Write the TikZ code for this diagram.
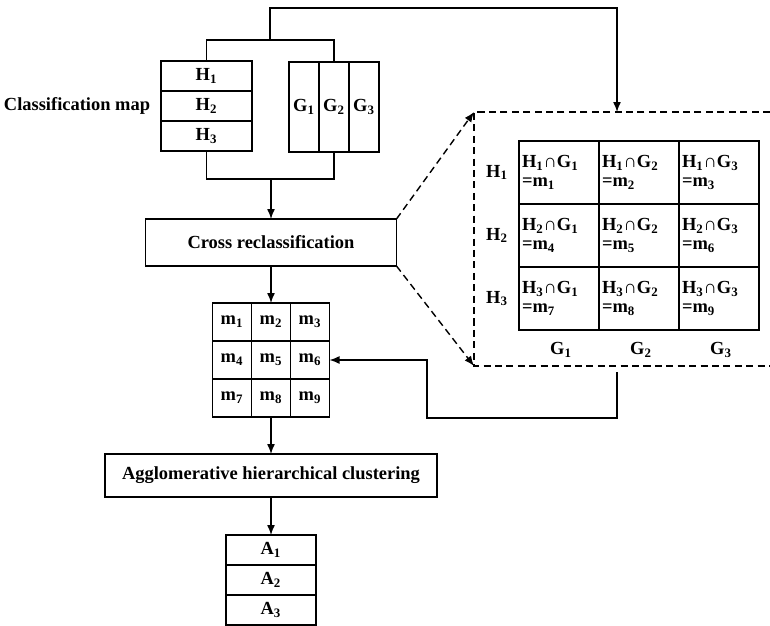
\documentclass[tikz,border=0pt]{standalone}
\usepackage{fontspec}
\setmainfont{Liberation Serif}
\usetikzlibrary{arrows.meta,positioning}
\newcommand{\idx}[1]{\textsubscript{#1}}
\begin{document}
\begin{tikzpicture}[x=0.02cm, y=-0.02cm,
		every node/.style={ text=black, inner sep=0pt, outer sep=0pt,
				font=\bfseries\fontsize{10.5}{11}\selectfont },
		hcell/.style={draw, minimum width=1.82cm, minimum height=0.6cm},
		gcell/.style={draw, minimum width=0.6cm, minimum height=1.8cm},
		mcell/.style={draw, minimum width=0.78cm, minimum height=0.76cm},
		bigcell/.style={draw, minimum width=1.6cm, minimum height=1.26cm,
				text width=1.48cm, align=left},
		procbox/.style={draw},
		line width=0.8pt, >={Latex[length=2mm,width=1.6mm]} ]

	\useasboundingbox (0,0) rectangle (770,625);

	% classification map
	\node[hcell] (h1) at (206.5,76) {H\idx{1}};
	\node[hcell] (h2) at (206.5,106) {H\idx{2}};
	\node[hcell] (h3) at (206.5,136) {H\idx{3}};
	\node[gcell] (g1) at (304,107) {G\idx{1}};
	\node[gcell] (g2) at (334,107) {G\idx{2}};
	\node[gcell] (g3) at (364,107) {G\idx{3}};
	\node[left=0.22cm of h2] (cmap) {Classification map};

	\node[procbox, minimum width=5.02cm, minimum height=0.94cm] (cross) at (271,242.5) {Cross reclassification};

	\node[mcell] (m1) at (232,322) {m\idx{1}};
	\node[mcell] (m2) at (271,322) {m\idx{2}};
	\node[mcell] (m3) at (310,322) {m\idx{3}};
	\node[mcell] (m4) at (232,360) {m\idx{4}};
	\node[mcell] (m5) at (271,360) {m\idx{5}};
	\node[mcell] (m6) at (310,360) {m\idx{6}};
	\node[mcell] (m7) at (232,398) {m\idx{7}};
	\node[mcell] (m8) at (271,398) {m\idx{8}};
	\node[mcell] (m9) at (310,398) {m\idx{9}};

	\node[procbox, minimum width=6.64cm, minimum height=0.86cm] (agg) at (271,475.5) {Agglomerative hierarchical clustering};

	\node[hcell, minimum width=1.8cm] (a1) at (271,550) {A\idx{1}};
	\node[hcell, minimum width=1.8cm] (a2) at (271,580) {A\idx{2}};
	\node[hcell, minimum width=1.8cm] (a3) at (271,610) {A\idx{3}};

	% cross table
	\node[bigcell] (c11) at (559,172.5) {H\idx{1}∩G\idx{1}\\=m\idx{1}};
	\node[bigcell] (c12) at (639,172.5) {H\idx{1}∩G\idx{2}\\=m\idx{2}};
	\node[bigcell] (c13) at (719,172.5) {H\idx{1}∩G\idx{3}\\=m\idx{3}};
	\node[bigcell] (c21) at (559,235.5) {H\idx{2}∩G\idx{1}\\=m\idx{4}};
	\node[bigcell] (c22) at (639,235.5) {H\idx{2}∩G\idx{2}\\=m\idx{5}};
	\node[bigcell] (c23) at (719,235.5) {H\idx{2}∩G\idx{3}\\=m\idx{6}};
	\node[bigcell] (c31) at (559,298.5) {H\idx{3}∩G\idx{1}\\=m\idx{7}};
	\node[bigcell] (c32) at (639,298.5) {H\idx{3}∩G\idx{2}\\=m\idx{8}};
	\node[bigcell] (c33) at (719,298.5) {H\idx{3}∩G\idx{3}\\=m\idx{9}};
	\node (rh1) at (497,172.5) {H\idx{1}};
	\node (rh2) at (497,235.5) {H\idx{2}};
	\node (rh3) at (497,298.5) {H\idx{3}};
	\node (cg1) at (561,350) {G\idx{1}};
	\node (cg2) at (641,350) {G\idx{2}};
	\node (cg3) at (721,350) {G\idx{3}};

	\coordinate (tb) at (270,40);
	\coordinate (tl) at (270,8);
	\coordinate (bb) at (271,179);
	\coordinate (dtop) at (617,112);
	\coordinate (dtl) at (474,112);
	\coordinate (dbl) at (474,366);
	\coordinate (dtr) at (770,112);
	\coordinate (dbr) at (770,366);
	\coordinate (ra) at (617,372);
	\coordinate (rb) at (427,418);

	\draw (h1.north) |- (tb) -| (g2.north);
	\draw[->] (tb) -- (tl) -| (dtop);
	\draw (h3.south) |- (bb) -| (g2.south);
	\draw[->] (bb) -- (cross);
	\draw[->] (cross) -- (m2);
	\draw[->] (m8) -- (agg);
	\draw[->] (agg) -- (a1);

	\draw[dash pattern=on 4pt off 2.5pt] (dtr) -- (dtl) -- (dbl) -- (dbr);
	\draw[dash pattern=on 4pt off 2.5pt, ->] (cross.north east) -- (dtl);
	\draw[dash pattern=on 4pt off 2.5pt, ->] (cross.south east) -- (dbl);
	\draw[->] (ra) |- (rb) |- (m6);
\end{tikzpicture}
\end{document}
